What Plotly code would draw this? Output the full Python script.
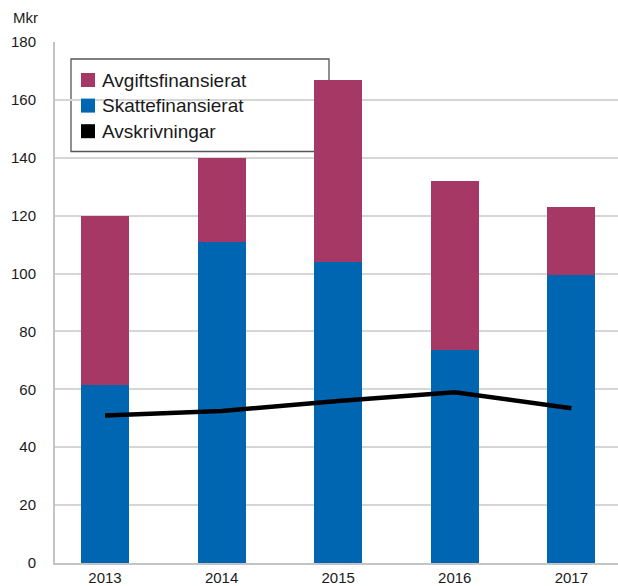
import plotly.graph_objects as go

# Investeringar per år (Mkr)
years = ["2013", "2014", "2015", "2016", "2017"]
skattefinansierat = [61.5, 110.8, 104.0, 73.5, 99.5]
avgiftsfinansierat = [58.5, 29.2, 63.0, 58.5, 23.5]
avskrivningar = [51.0, 52.5, 56.0, 59.0, 53.5]
y_ticks = [0, 20, 40, 60, 80, 100, 120, 140, 160, 180]

# Legend entries, top to bottom
legend_names = ["Avgiftsfinansierat", "Skattefinansierat", "Avskrivningar"]

MAGENTA = "#A53864"
BLUE = "#0066B2"
BLACK = "#000000"
legend_colors = [MAGENTA, BLUE, BLACK]
FONT = "Liberation Sans, Arial, Helvetica, sans-serif"

# Plot area in pixels (used to convert layout positions to paper units)
L, R, T, B = 55, 618, 42, 563
PW, PH = R - L, B - T


def px(x):
    return (x - L) / PW


def py(y):
    return (B - y) / PH


fig = go.Figure()

# Stacked bars: tax-financed at the bottom, fee-financed on top
fig.add_trace(go.Bar(
    x=years, y=skattefinansierat, name="Skattefinansierat",
    marker=dict(color=BLUE, line=dict(width=0)), width=0.41,
))
fig.add_trace(go.Bar(
    x=years, y=avgiftsfinansierat, name="Avgiftsfinansierat",
    marker=dict(color=MAGENTA, line=dict(width=0)), width=0.41,
))

# Depreciation line
fig.add_trace(go.Scatter(
    x=years, y=avskrivningar, mode="lines", name="Avskrivningar",
    line=dict(color=BLACK, width=4.5),
))

# Legend frame sits between gridlines and bars
fig.add_shape(
    type="rect", xref="paper", yref="paper",
    x0=px(71), x1=px(329), y0=py(151.5), y1=py(59),
    line=dict(color="#555555", width=1.3), fillcolor="rgba(0,0,0,0)",
    layer="between",
)

# Legend swatches and labels
row_y = [80, 105.6, 131.2]
for name, color, yc in zip(legend_names, legend_colors, row_y):
    fig.add_shape(
        type="rect", xref="paper", yref="paper",
        x0=px(81), x1=px(95), y0=py(yc + 7), y1=py(yc - 7),
        line=dict(width=0), fillcolor=color, layer="above",
    )
    fig.add_annotation(
        text=name, xref="paper", yref="paper",
        x=px(99.5), y=py(yc), xanchor="left", yanchor="middle",
        showarrow=False,
        font=dict(family=FONT, size=19, color="#1a1a1a"),
    )

fig.add_annotation(
    text="Mkr", xref="paper", yref="paper",
    x=px(11), y=py(17),
    xanchor="left", yanchor="middle", showarrow=False,
    font=dict(family=FONT, size=15, color="#1a1a1a"),
)

fig.update_layout(
    width=618, height=586,
    margin=dict(l=L, r=618 - R, t=T, b=586 - B),
    paper_bgcolor="white", plot_bgcolor="white",
    barmode="stack",
    font=dict(family=FONT, size=15, color="#1a1a1a"),
    showlegend=False,
    xaxis=dict(
        type="category", range=[-0.429, 4.40],
        showgrid=False, showline=True, linecolor="#c4c4c4", linewidth=2,
        ticks="", tickfont=dict(size=15),
    ),
    yaxis=dict(
        range=[0, 180], tickvals=y_ticks,
        showgrid=True, gridcolor="#d6d6d6", gridwidth=1.6,
        showline=True, linecolor="#c4c4c4", linewidth=2,
        zeroline=False, ticks="", ticklabelstandoff=14,
        tickfont=dict(size=15),
    ),
)

fig.write_html("out.html")
